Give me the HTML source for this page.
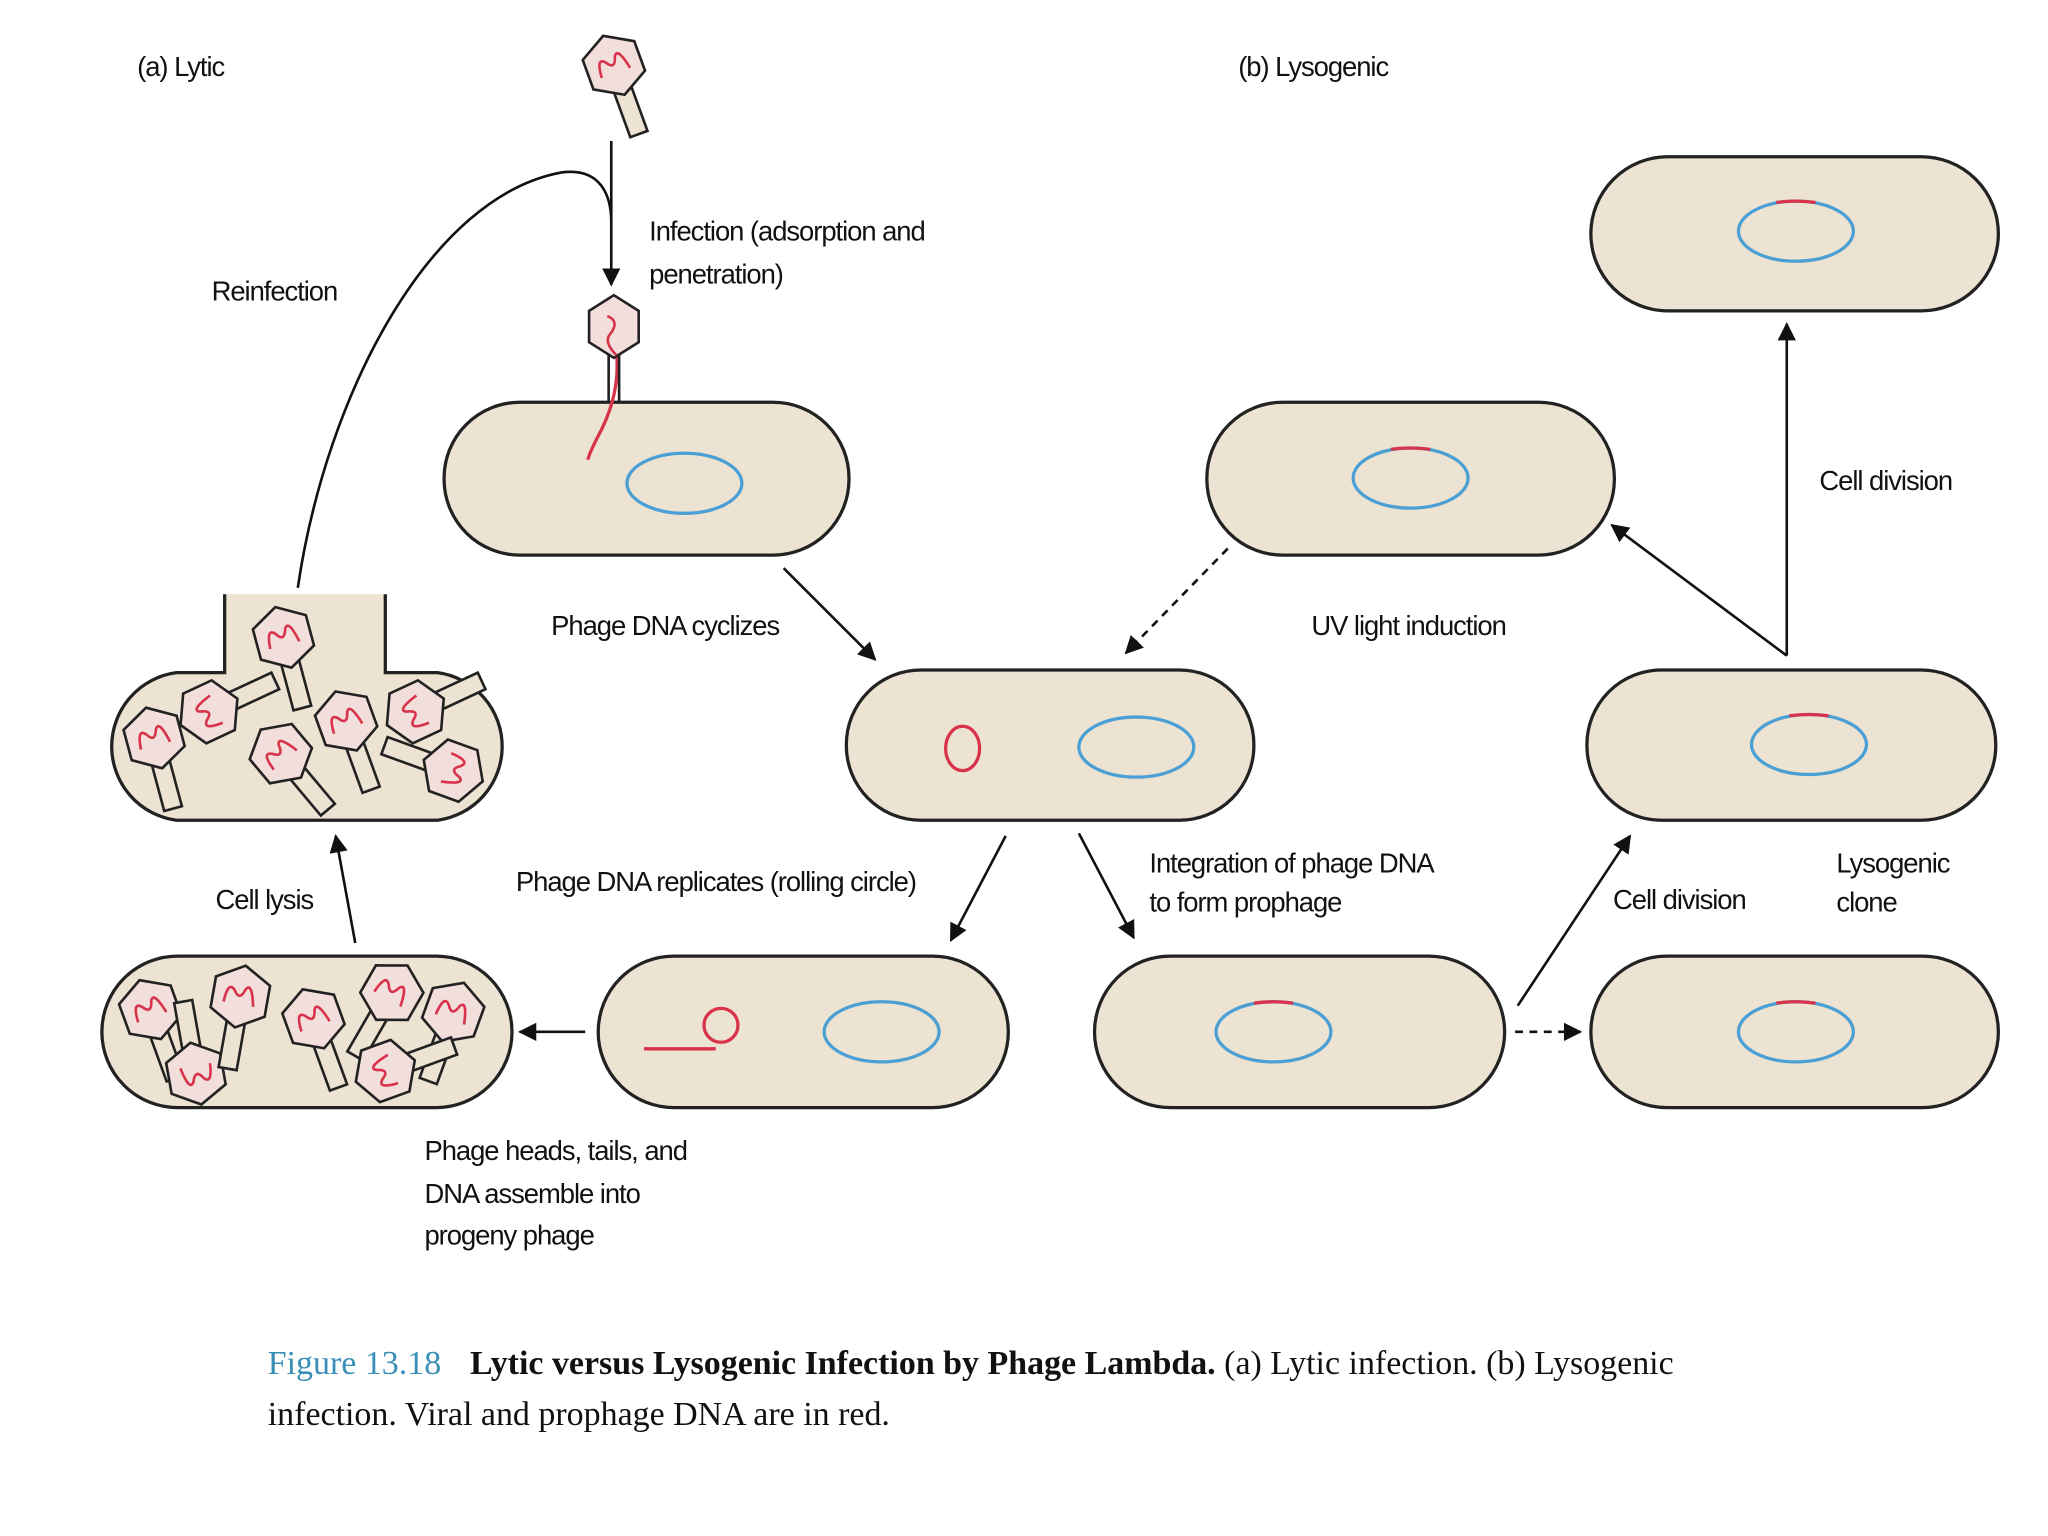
<!DOCTYPE html>
<html><head><meta charset="utf-8"><style>
html,body{margin:0;padding:0;background:#fff}
svg{display:block}
text{font-family:"Liberation Sans",sans-serif;font-size:21px;fill:#111;letter-spacing:-0.8px}
.cap{font-family:"Liberation Serif",serif;font-size:26px;letter-spacing:0}
</style></head><body>
<svg width="2048" height="1536" viewBox="0 0 1568 1176" xmlns="http://www.w3.org/2000/svg">
<defs>
<marker id="ah" viewBox="0 0 10 10" refX="9" refY="5" markerWidth="7" markerHeight="7" orient="auto"><path d="M0,0 L10,5 L0,10 z" fill="#111"/></marker>
<g id="ph">
<path d="M-7,18 L-7,56 L7,56 L7,18" fill="#ede3d3" stroke="#222" stroke-width="2"/>
<path d="M0,-24 L21,-12 L21,12 L0,24 L-21,12 L-21,-12 Z" fill="#f2dedb" stroke="#222" stroke-width="2"/>
<path d="M-12,6 Q-11,-11 -5,-4 Q0,4 3,-6 Q7,-13 11,6" fill="none" stroke="#d8334a" stroke-width="2"/>
</g>
</defs>
<rect width="1568" height="1176" fill="#fff"/>
<g stroke="#222" stroke-width="2.5" fill="#ede3d3">
<rect x="340" y="308" width="310" height="117" rx="58"/>
<rect x="648" y="513" width="312" height="115" rx="57"/>
<path d="M135,515 L172,515 L172,455 L295,455 L295,515 L335,515 A57,57 0 0 1 335,628 L135,628 A57,57 0 0 1 135,515 Z" stroke="none"/>
<path d="M172,455 L172,515 L135,515 A57,57 0 0 0 135,628 L335,628 A57,57 0 0 0 335,515 L295,515 L295,455" fill="none"/>
<rect x="78" y="732" width="314" height="116" rx="58"/>
<rect x="458" y="732" width="314" height="116" rx="58"/>
<rect x="838" y="732" width="314" height="116" rx="58"/>
<rect x="1218" y="732" width="312" height="116" rx="58"/>
<rect x="1215" y="513" width="313" height="115" rx="57"/>
<rect x="924" y="308" width="312" height="117" rx="58"/>
<rect x="1218" y="120" width="312" height="118" rx="59"/>
</g>
<g fill="none" stroke="#4a9fd4" stroke-width="2.5">
<ellipse cx="524" cy="370" rx="44" ry="23"/>
<ellipse cx="870" cy="572" rx="44" ry="23"/>
<ellipse cx="675" cy="790" rx="44" ry="23"/>
<ellipse cx="975" cy="790" rx="44" ry="23"/>
<ellipse cx="1375" cy="790" rx="44" ry="23"/>
<ellipse cx="1385" cy="570" rx="44" ry="23"/>
<ellipse cx="1375" cy="177" rx="44" ry="23"/>
<ellipse cx="1080" cy="366" rx="44" ry="23"/>
</g>
<g fill="none" stroke="#d8334a" stroke-width="2.5">
<ellipse cx="737" cy="573" rx="13" ry="17"/>
<circle cx="552" cy="785" r="13"/>
<path d="M493,803 L548,803"/>
<path d="M960,768 Q975,766 990,768"/>
<path d="M1360,768 Q1375,766 1390,768"/>
<path d="M1370,548 Q1385,546 1400,548"/>
<path d="M1360,155 Q1375,153 1390,155"/>
<path d="M1065,344 Q1080,342 1095,344"/>
<path d="M472,270 Q475,300 460,330 Q452,345 450,352"/>
</g>
<use href="#ph" transform="translate(470,50) rotate(-20)"/>
<g transform="translate(470,250)"><path d="M-4,18 L-4,58 M4,18 L4,58" stroke="#222" stroke-width="2"/><path d="M0,-24 L19,-12 L19,12 L0,24 L-19,12 L-19,-12 Z" fill="#f2dedb" stroke="#222" stroke-width="2"/><path d="M-5,-8 Q5,-4 -3,6 Q-8,12 2,22" fill="none" stroke="#d8334a" stroke-width="2"/></g>
<use href="#ph" transform="translate(217,488) rotate(-15)"/>
<use href="#ph" transform="translate(160,545) rotate(-115)"/>
<use href="#ph" transform="translate(118,565) rotate(-15)"/>
<use href="#ph" transform="translate(215,577) rotate(-40)"/>
<use href="#ph" transform="translate(265,552) rotate(-20)"/>
<use href="#ph" transform="translate(318,545) rotate(-115)"/>
<use href="#ph" transform="translate(347,590) rotate(110)"/>
<use href="#ph" transform="translate(115,773) rotate(-20)"/>
<use href="#ph" transform="translate(150,822) rotate(170)"/>
<use href="#ph" transform="translate(184,763) rotate(10)"/>
<use href="#ph" transform="translate(240,780) rotate(-20)"/>
<use href="#ph" transform="translate(300,760) rotate(30)"/>
<use href="#ph" transform="translate(347,775) rotate(20)"/>
<use href="#ph" transform="translate(295,820) rotate(-110)"/>
<g stroke="#111" stroke-width="2" fill="none">
<path d="M468,108 L468,218" marker-end="url(#ah)"/>
<path d="M228,450 C250,300 330,150 430,132 C460,128 468,150 468,170"/>
<path d="M600,435 L670,505" marker-end="url(#ah)"/>
<path d="M940,420 L862,500" stroke-dasharray="6,5" marker-end="url(#ah)"/>
<path d="M770,640 L728,720" marker-end="url(#ah)"/>
<path d="M826,638 L868,718" marker-end="url(#ah)"/>
<path d="M1160,790 L1210,790" stroke-dasharray="6,5" marker-end="url(#ah)"/>
<path d="M1162,770 L1248,640" marker-end="url(#ah)"/>
<path d="M1368,502 L1368,248" marker-end="url(#ah)"/>
<path d="M1368,502 L1234,402" marker-end="url(#ah)"/>
<path d="M272,722 L257,640" marker-end="url(#ah)"/>
<path d="M448,790 L398,790" marker-end="url(#ah)"/>
</g>
<text x="105" y="58">(a) Lytic</text>
<text x="948" y="58">(b) Lysogenic</text>
<text x="497" y="184">Infection (adsorption and</text>
<text x="497" y="217">penetration)</text>
<text x="162" y="230">Reinfection</text>
<text x="1393" y="375">Cell division</text>
<text x="422" y="486">Phage DNA cyclizes</text>
<text x="1004" y="486">UV light induction</text>
<text x="880" y="668">Integration of phage DNA</text>
<text x="880" y="698">to form prophage</text>
<text x="395" y="682">Phage DNA replicates (rolling circle)</text>
<text x="165" y="696">Cell lysis</text>
<text x="1235" y="696">Cell division</text>
<text x="1406" y="668">Lysogenic</text>
<text x="1406" y="698">clone</text>
<text x="325" y="888">Phage heads, tails, and</text>
<text x="325" y="921">DNA assemble into</text>
<text x="325" y="953">progeny phage</text>
<text class="cap" x="205" y="1052"><tspan fill="#3a8fb7">Figure 13.18</tspan><tspan dx="22" font-weight="bold">Lytic versus Lysogenic Infection by Phage Lambda.</tspan> (a) Lytic infection. (b) Lysogenic</text>
<text class="cap" x="205" y="1091">infection. Viral and prophage DNA are in red.</text>
</svg>
</body></html>
